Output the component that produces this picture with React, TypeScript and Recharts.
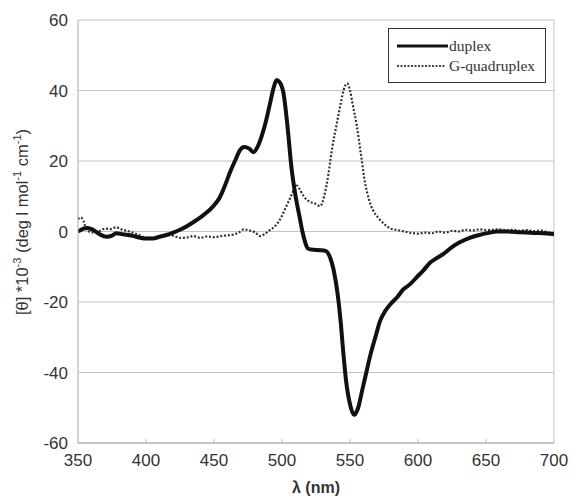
import { LineChart, Line, XAxis, YAxis, CartesianGrid, ReferenceLine } from 'recharts';

// wavelength (nm) and ellipticity ([θ]*10^-3)
const duplexWl = [350, 354, 357, 361, 366, 371, 375, 378, 383, 390, 396, 400, 405, 410, 415, 420, 425, 430, 435, 440, 445, 449, 454, 458, 462, 466, 469, 472, 476, 479, 482, 485, 488, 491, 494, 496, 498, 501, 504, 507, 510, 513, 515, 517, 519, 523, 528, 532, 535, 538, 541, 543, 545, 547, 550, 553, 556, 559, 562, 565, 569, 572, 576, 580, 585, 589, 594, 599, 604, 609, 614, 619, 624, 630, 638, 645, 652, 658, 665, 675, 685, 695, 700];
const duplexTheta = [0, 0.8, 1, 0.5, -0.8, -1.5, -1.2, -0.5, -0.8, -1.2, -1.8, -2, -2, -1.5, -1, -0.3, 0.5, 1.5, 2.7, 4, 5.5, 7, 9.5, 13, 17, 20.5, 23, 24, 23.5, 22.5, 24, 27, 31, 36, 41, 43, 42.5, 39.5, 30, 18, 10, 4, 0, -3, -4.8, -5.2, -5.3, -5.5, -7, -11, -18, -25, -34, -42, -49, -52, -50, -45, -40, -35, -29.5, -25.5, -22.5, -20.5, -18.5, -16.5, -15, -13, -11, -8.8, -7.5, -6.3, -4.7, -3.2, -1.8, -1, -0.4, 0, 0, -0.2, -0.4, -0.6, -0.8];

const quadWl = [350, 352, 354, 356, 360, 365, 370, 374, 378, 382, 386, 390, 395, 400, 405, 410, 415, 420, 425, 430, 435, 440, 445, 450, 455, 460, 464, 468, 472, 476, 480, 484, 487, 491, 494, 497, 500, 503, 506, 509, 511, 513, 516, 520, 524, 528, 531, 534, 537, 540, 543, 546, 548, 550, 552, 555, 558, 561, 564, 567, 571, 575, 580, 585, 590, 595, 600, 605, 610, 615, 620, 625, 630, 635, 640, 645, 650, 655, 660, 665, 670, 675, 680, 685, 690, 695, 700];
const quadTheta = [3.5, 4, 3, 0.8, -0.3, 0, 0.8, 0.7, 1.2, 0.6, 0.2, -0.3, -1, -1.8, -1.8, -1.2, -1, -1.2, -1.8, -1.7, -1.3, -1.8, -1.4, -1.6, -1.3, -1.1, -0.9, -0.3, 0.6, 0.3, -0.2, -1.3, -0.8, 0.4, 1.2, 2.5, 4.5, 7, 9.5, 12, 13, 12, 10, 8.5, 8, 7.2, 10, 16, 24, 30, 36, 41, 42, 40, 36, 30, 22, 14, 9, 6, 3.8, 2.2, 0.8, 0.4, 0, -0.4, -0.6, -0.3, -0.5, 0, -0.3, 0.2, 0, 0.5, 0.3, 0.6, 0.4, 0.5, 0.6, 0.3, 0.5, 0.2, 0.4, 0.1, 0.3, -0.2, -0.4];

const xTicks = [350, 400, 450, 500, 550, 600, 650, 700];
const yTicks = [-60, -40, -20, 0, 20, 40, 60];

const duplexData = duplexWl.map((wl, i) => ({ wl, theta: duplexTheta[i] }));
const quadData = quadWl.map((wl, i) => ({ wl, theta: quadTheta[i] }));

const AXIS_FONT = 'Liberation Sans, Arial, sans-serif';

function XTick({ x, y, payload }: any) {
  return (
    <g>
      {payload.value !== 350 && payload.value !== 700 && (
        <line x1={x} x2={x} y1={y} y2={y - 4} stroke="#bbb" />
      )}
      <text x={x} y={y + 11} dy="0.71em" textAnchor="middle" fontSize={17} fill="#333" fontFamily={AXIS_FONT}>
        {payload.value}
      </text>
    </g>
  );
}

function YLabel() {
  return (
    <text
      transform="translate(28, 222) rotate(-90)"
      textAnchor="middle"
      fontSize={16.5}
      fill="#333"
      fontFamily={AXIS_FONT}
    >
      [θ] *10<tspan dy={-7} fontSize={11}>-3</tspan>
      <tspan dy={7}> (deg l mol</tspan>
      <tspan dy={-7} fontSize={11}>-1</tspan>
      <tspan dy={7}> cm</tspan>
      <tspan dy={-7} fontSize={11}>-1</tspan>
      <tspan dy={7}>)</tspan>
    </text>
  );
}

function LegendBox() {
  return (
    <div
      style={{
        position: 'absolute',
        top: 28,
        left: 388,
        width: 158,
        height: 55,
        border: '1.5px solid #333',
        background: '#fff',
        fontFamily: 'Liberation Serif, Times New Roman, serif',
        fontSize: 15.5,
        color: '#333',
        boxSizing: 'border-box',
        paddingTop: 7,
      }}
    >
      <div style={{ display: 'flex', alignItems: 'center', height: 20 }}>
        <svg width={60} height={10}>
          <line x1={8} x2={59} y1={5} y2={5} stroke="#111" strokeWidth={3} />
        </svg>
        <span>duplex</span>
      </div>
      <div style={{ display: 'flex', alignItems: 'center', height: 20 }}>
        <svg width={60} height={10}>
          <line x1={8} x2={56} y1={5} y2={5} stroke="#444" strokeWidth={2} strokeDasharray="2 1.5" />
        </svg>
        <span>G-quadruplex</span>
      </div>
    </div>
  );
}

export default function App() {
  return (
    <div style={{ position: 'fixed', left: 0, top: 0, width: 570, height: 501, background: '#fff' }}>
      <LineChart width={570} height={501} margin={{ top: 20, right: 16, left: 0, bottom: 0 }}>
        <CartesianGrid vertical={false} stroke="#c4c4c4" />
        <XAxis
          type="number"
          dataKey="wl"
          domain={[350, 700]}
          ticks={xTicks}
          allowDataOverflow
          height={58}
          stroke="#aaa"
          tickSize={0}
          tickMargin={0}
          tick={<XTick />}
          label={{
            value: 'λ (nm)',
            position: 'insideBottom',
            offset: 8,
            style: { fontSize: 16, fontWeight: 'bold', fill: '#333', fontFamily: AXIS_FONT },
          }}
        />
        <YAxis
          type="number"
          dataKey="theta"
          domain={[-60, 60]}
          ticks={yTicks}
          width={78}
          stroke="#aaa"
          tickLine={false}
          tickSize={0}
          tickMargin={10}
          tick={{ fontSize: 17, fill: '#333', fontFamily: AXIS_FONT }}
          label={{ content: () => <YLabel /> }}
        />
        <ReferenceLine x={700} stroke="#c4c4c4" />
        <Line
          data={quadData}
          dataKey="theta"
          name="G-quadruplex"
          type="monotone"
          stroke="#333"
          strokeWidth={2.2}
          strokeDasharray="2 1.8"
          dot={false}
          isAnimationActive={false}
        />
        <Line
          data={duplexData}
          dataKey="theta"
          name="duplex"
          type="monotone"
          stroke="#111"
          strokeWidth={4}
          dot={false}
          isAnimationActive={false}
        />
      </LineChart>
      <LegendBox />
    </div>
  );
}
